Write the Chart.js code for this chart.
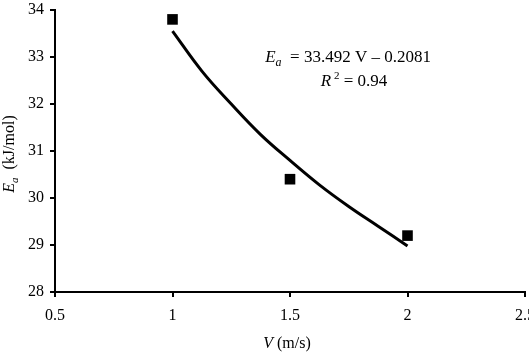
<!DOCTYPE html>
<html>
<head>
<meta charset="utf-8">
<script src="https://cdn.jsdelivr.net/npm/chart.js@4"></script>
<style>
  html, body { margin: 0; padding: 0; background: #fff; overflow: hidden; }
  #wrap { width: 529px; height: 356px; overflow: hidden; }
</style>
</head>
<body>
<div id="wrap"><canvas id="chart" width="544" height="356"></canvas></div>
<script>
// measured points
const velocity = [1, 1.5, 2];
const activationEnergy = [33.8, 30.4, 29.2];

// trend curve
const fitVelocity = [1, 1.125, 1.25, 1.375, 1.5, 1.625, 1.75, 1.875, 2];
const fitEnergy = [33.55, 32.7, 32.0, 31.35, 30.8, 30.28, 29.82, 29.4, 28.98];

// axes
const xTicks = [0.5, 1, 1.5, 2, 2.5];
const yTicks = [28, 29, 30, 31, 32, 33, 34];

const serif = '"Liberation Serif", "Times New Roman", serif';

// draw a run of [text, font, offsetY] pieces starting at x
const drawRuns = (ctx, runs, x, y) => {
    let cx = x;
    runs.forEach(([text, font, dy]) => {
        ctx.font = font;
        ctx.fillText(text, cx, y + (dy || 0));
        cx += ctx.measureText(text).width;
    });
};
const runsWidth = (ctx, runs) => runs.reduce((w, [text, font]) => {
    ctx.font = font;
    return w + ctx.measureText(text).width;
}, 0);

const labelsPlugin = {
    id: 'labels',
    afterDraw(chart) {
        const { ctx, chartArea, scales } = chart;
        ctx.save();
        ctx.fillStyle = '#000';
        ctx.textBaseline = 'alphabetic';
        ctx.textAlign = 'left';

        // equation
        const eq = [
            ['E', 'italic 17px ' + serif],
            ['a', 'italic 12px ' + serif, 4],
            ['  = 33.492 V \u2013 0.2081', '17px ' + serif]
        ];
        const r2 = [
            ['R', 'italic 17px ' + serif],
            [' 2', '11px ' + serif, -7],
            [' = 0.94', '17px ' + serif]
        ];
        const cx = scales.x.getPixelForValue(1.76);
        drawRuns(ctx, eq, cx - 3 - runsWidth(ctx, eq) / 2, scales.y.getPixelForValue(32.9));
        drawRuns(ctx, r2, cx + 3 - runsWidth(ctx, r2) / 2, scales.y.getPixelForValue(32.38));

        // x title
        const xt = [
            ['V', 'italic 16px ' + serif],
            [' (m/s)', '16px ' + serif]
        ];
        const mx = (chartArea.left + chartArea.right) / 2;
        drawRuns(ctx, xt, mx - 3 - runsWidth(ctx, xt) / 2, chartArea.bottom + 56);

        // y title
        const yt = [
            ['E', 'italic 16px ' + serif],
            ['a', 'italic 11px ' + serif, 4],
            ['  (kJ/mol)', '16px ' + serif]
        ];
        ctx.translate(14, (chartArea.top + chartArea.bottom) / 2 + 3);
        ctx.rotate(-Math.PI / 2);
        drawRuns(ctx, yt, -runsWidth(ctx, yt) / 2, 0);
        ctx.restore();
    }
};

new Chart(document.getElementById('chart'), {
    type: 'scatter',
    data: {
        datasets: [
            {
                label: 'Ea',
                data: velocity.map((v, i) => ({ x: v, y: activationEnergy[i] })),
                pointStyle: 'rect',
                pointRadius: 7.5,
                pointBackgroundColor: '#000',
                pointBorderColor: '#000',
                pointBorderWidth: 0,
                showLine: false,
                order: 1
            },
            {
                label: 'fit',
                data: fitVelocity.map((v, i) => ({ x: v, y: fitEnergy[i] })),
                showLine: true,
                borderColor: '#000',
                borderWidth: 3,
                pointRadius: 0,
                tension: 0.4,
                order: 2
            }
        ]
    },
    options: {
        responsive: false,
        animation: false,
        layout: { padding: { top: 10, right: 12, left: 0, bottom: 0 } },
        plugins: { legend: { display: false }, tooltip: { enabled: false } },
        scales: {
            x: {
                type: 'linear',
                min: xTicks[0],
                max: xTicks[xTicks.length - 1],
                afterBuildTicks: s => { s.ticks = xTicks.map(v => ({ value: v })); },
                afterFit: s => { s.height = 64; },
                ticks: { color: '#000', font: { family: serif, size: 16 }, padding: 9, maxRotation: 0, callback: v => String(v) },
                grid: { drawOnChartArea: false, tickLength: 5, tickColor: '#000', lineWidth: 2 },
                border: { color: '#000', width: 2 }
            },
            y: {
                min: yTicks[0],
                max: yTicks[yTicks.length - 1],
                afterBuildTicks: s => { s.ticks = yTicks.map(v => ({ value: v })); },
                afterFit: s => { s.width = 55; s.paddingTop = 0; s.paddingBottom = 0; },
                ticks: { color: '#000', font: { family: serif, size: 16 }, padding: 6, callback: v => String(v) },
                grid: { drawOnChartArea: false, tickLength: 5, tickColor: '#000', lineWidth: 2 },
                border: { color: '#000', width: 2 }
            }
        }
    },
    plugins: [labelsPlugin]
});
</script>
</body>
</html>
